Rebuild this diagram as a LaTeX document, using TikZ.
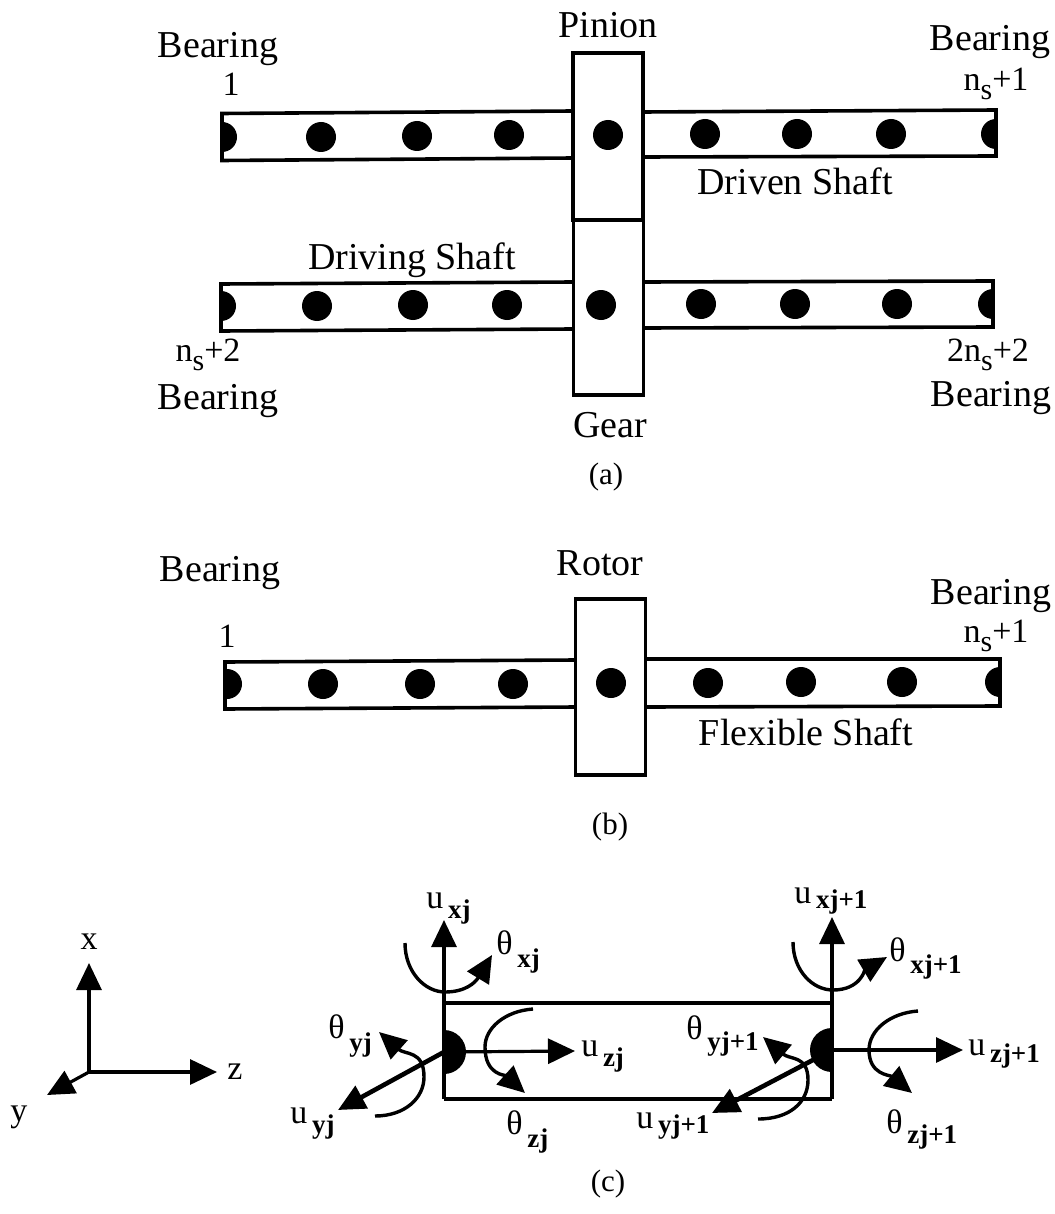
\documentclass[tikz,border=0pt]{standalone}
\usepackage{fontspec}
\setmainfont{Liberation Serif}
\usetikzlibrary{arrows.meta}
\newcommand{\bigfont}{\fontsize{19}{21}\selectfont}
\newcommand{\midfont}{\fontsize{17}{19}\selectfont}
\newcommand{\capfont}{\fontsize{15.5}{18}\selectfont}
\newcommand{\subfont}{\fontsize{13.5}{15}\selectfont\bfseries}
% main letter with a lowered index
\newcommand{\dof}[3][5pt]{#2\hspace{2.3pt}\raisebox{-#1}{\subfont #3}}
\newcommand{\nsub}[2]{#1n\raisebox{-4.5pt}{\fontsize{15}{17}\selectfont s}#2}
\tikzset{
  blockbox/.style={draw,line width=1.8pt,inner sep=0pt,minimum width=35pt},
  shaftline/.style={line width=1.8pt,line join=miter},
  nodedot/.style={circle,fill=black,inner sep=0pt,minimum size=15pt},
  biglabel/.style={font=\bigfont,inner sep=0pt},
  midlabel/.style={font=\midfont,inner sep=0pt},
  caplabel/.style={font=\capfont,inner sep=0pt},
  doflabel/.style={font=\midfont,inner sep=0pt,anchor=base west},
  dofarrow/.style={line width=1.6pt,-{Triangle[length=13.5pt,width=12.5pt]}},
  spinarrow/.style={line width=1.7pt,-{Triangle[length=13.5pt,width=12.5pt]}},
  yarrow/.style={line width=2.3pt,-{Triangle[length=13.5pt,width=12.5pt]}}
}
\begin{document}
\begin{tikzpicture}[x=0.5pt,y=-0.5pt]
    \useasboundingbox (0,0) rectangle (1054,1214);
    % (a) Gear pair
    \node[blockbox,minimum height=83.5pt] (pinion) at (608,136.5) {};
    \node[blockbox,minimum height=87.5pt] (gear) at (608.5,307.5) {};
    \draw[shaftline] (573,111) -- (222,113.5) -- (222,160.5) -- (573,158);
    \draw[shaftline] (643,112) -- (996,110) -- (996,156) -- (643,157);
    \draw[shaftline] (573,282) -- (221,284) -- (221,331) -- (573,329);
    \draw[shaftline] (643,282) -- (993,281) -- (993,327) -- (643,328);
    \fill (222,137) +(0,-15) arc[start angle=90,end angle=-90,radius=7.5pt];
    \fill (996,134) +(0,-15) arc[start angle=90,end angle=270,radius=7.5pt];
    \fill (221,306) +(0,-15) arc[start angle=90,end angle=-90,radius=7.5pt];
    \fill (993,304) +(0,-15) arc[start angle=90,end angle=270,radius=7.5pt];
    \foreach \px/\py [count=\i] in {321/137,417/136,509/135,608/135,705/134,797/134,891/134,
        317/306,413/305,507/305,601/305,701/304,795/304,897/304}
        \node[nodedot] (adot\i) at (\px,\py) {};
    \node[biglabel] (pinionlabel) at (608,25) {Pinion};
    \node[biglabel] (gearlabel) at (610,425) {Gear};
    \node[biglabel] (bearingA) at (218,49) {Bearing};
    \node[biglabel] (bearingB) at (990,42) {Bearing};
    \node[biglabel] (bearingC) at (218,401) {Bearing};
    \node[biglabel] (bearingD) at (991,398) {Bearing};
    \node[biglabel] (drivenlabel) at (795,181) {Driven Shaft};
    \node[biglabel] (drivinglabel) at (412,260) {Driving Shaft};
    \node[midlabel] (numA) at (231,84) {1};
    \node[midlabel] (numB) at (996,84) {\nsub{}{+1}};
    \node[midlabel] (numC) at (208,355) {\nsub{}{+2}};
    \node[midlabel] (numD) at (988,355) {\nsub{2}{+2}};
    \node[caplabel] (capa) at (606,477) {(a)};
    % (b) Rotor
    \node[blockbox,minimum height=88pt] (rotor) at (610.5,687) {};
    \draw[shaftline] (576,660) -- (225,662) -- (225,709) -- (576,707);
    \draw[shaftline] (645,659) -- (1000,659) -- (1000,706) -- (645,707);
    \fill (227,684) +(0,-15) arc[start angle=90,end angle=-90,radius=7.5pt];
    \fill (1000,682) +(0,-15) arc[start angle=90,end angle=270,radius=7.5pt];
    \foreach \px/\py [count=\i] in {323/684,420/684,513/684,611/683,708/683,801/682,902/682}
        \node[nodedot] (bdot\i) at (\px,\py) {};
    \node[biglabel] (rotorlabel) at (600,563) {Rotor};
    \node[biglabel] (bearingE) at (220,573) {Bearing};
    \node[biglabel] (bearingF) at (991,596) {Bearing};
    \node[biglabel] (flexlabel) at (806,732) {Flexible Shaft};
    \node[midlabel] (numE) at (227,636) {1};
    \node[midlabel] (numF) at (996,636) {\nsub{}{+1}};
    \node[caplabel] (capb) at (610,827) {(b)};
    % (c) Axes
    \coordinate (origin) at (89,1072);
    \draw[dofarrow] (origin) -- (89,963);
    \draw[dofarrow] (origin) -- (217,1072);
    \draw[dofarrow] (origin) -- (47,1095);
    \node[midlabel] (xlabel) at (89,942) {x};
    \node[midlabel] (ylabel) at (19,1117) {y};
    \node[midlabel] (zlabel) at (235,1072) {z};
    % (c) Element
    \draw[shaftline] (444,1003) -- (832,1003);
    \draw[shaftline] (444,1099) -- (832,1099);
    \draw[shaftline] (444,1003) -- (444,1099);
    \draw[shaftline] (832,1003) -- (832,1099);
    \fill (444,1052) +(0,-22) arc[start angle=90,end angle=-90,radius=11pt];
    \fill (832,1050) +(0,-22) arc[start angle=90,end angle=270,radius=11pt];
    \coordinate (nodej) at (444,1052);
    \coordinate (nodek) at (832,1050);
    % Node j
    \draw[dofarrow] (444,1003) -- (444,920);
    \draw[dofarrow] (nodej) -- (575,1051);
    \draw[yarrow] (nodej) -- (338,1110);
    \draw[spinarrow] (405,943) .. controls (405,972) and (425,992) .. (445,992) .. controls (465,992) and (475,983) .. (492,955);
    \draw[spinarrow] (533,1009) .. controls (505,1011) and (485,1028) .. (485,1047) .. controls (485,1075) and (505,1075) .. (525,1093);
    \draw[spinarrow] (375,1116) .. controls (405,1116) and (424,1098) .. (424,1077) .. controls (424,1050) and (405,1055) .. (379,1032);
    \node[doflabel] (uxj) at (426,908) {\dof{u}{xj}};
    \node[doflabel] (txj) at (496,954) {\dof[6.5pt]{θ}{xj}};
    \node[doflabel] (tyj) at (328,1038) {\dof[6.5pt]{θ}{yj}};
    \node[doflabel] (uzj) at (581,1056) {\dof{u}{zj}};
    \node[doflabel] (uyj) at (290,1123) {\dof{u}{yj}};
    \node[doflabel] (tzj) at (506,1134) {\dof[6.5pt]{θ}{zj}};
    % Node j+1
    \draw[dofarrow] (832,1003) -- (832,917);
    \draw[dofarrow] (nodek) -- (963,1050);
    \draw[yarrow] (nodek) -- (712,1113);
    \draw[spinarrow] (793,942) .. controls (793,970) and (812,990) .. (833,990) .. controls (860,990) and (865,970) .. (887,957);
    \draw[spinarrow] (918,1011) .. controls (890,1013) and (869,1030) .. (869,1050) .. controls (869,1075) and (890,1075) .. (912,1093);
    \draw[spinarrow] (758,1119) .. controls (790,1119) and (808,1102) .. (808,1080) .. controls (808,1055) and (790,1060) .. (763,1037);
    \node[doflabel] (uxk) at (794,903) {\dof[2.5pt]{u}{xj+1}};
    \node[doflabel] (txk) at (889,961) {\dof[6pt]{θ}{xj+1}};
    \node[doflabel] (tyk) at (686,1039) {\dof[5.5pt]{θ}{yj+1}};
    \node[doflabel] (uzk) at (968,1055) {\dof[3.5pt]{u}{zj+1}};
    \node[doflabel] (uyk) at (636,1128) {\dof[2.5pt]{u}{yj+1}};
    \node[doflabel] (tzk) at (886,1133) {\dof[5pt]{θ}{zj+1}};
    \node[caplabel] (capc) at (608,1184) {(c)};
\end{tikzpicture}
\end{document}
